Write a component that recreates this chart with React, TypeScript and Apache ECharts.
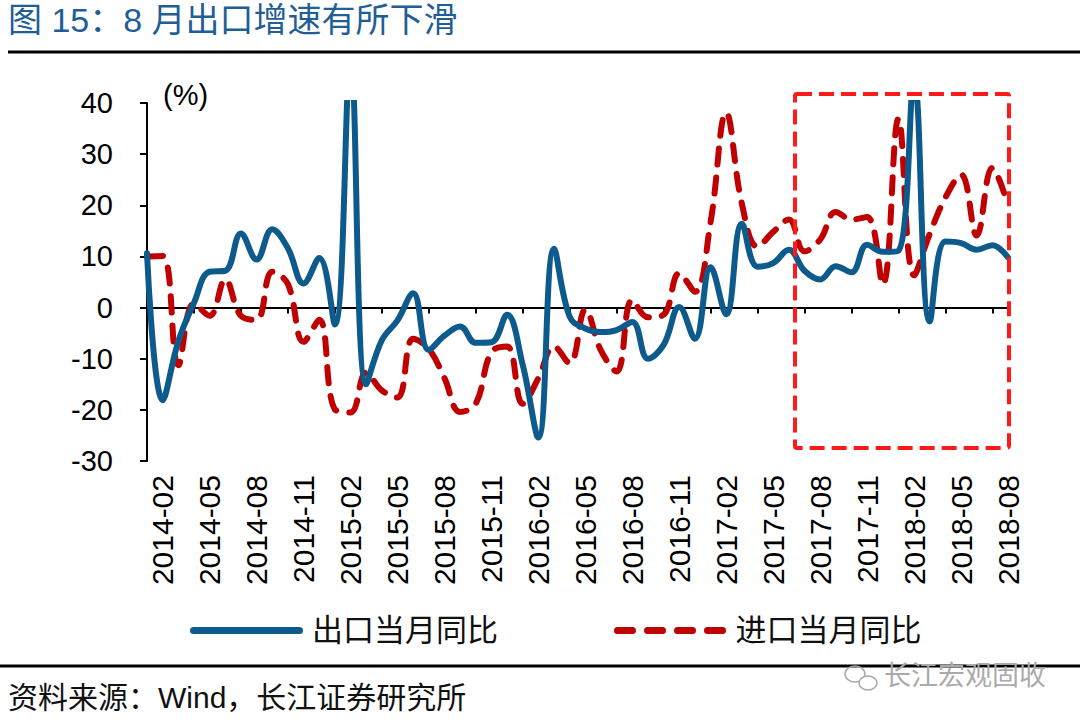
import React, { useEffect, useRef } from "react";
import * as echarts from "echarts";

const months: string[] = [
  "2014-01", "2014-02", "2014-03", "2014-04", "2014-05", "2014-06", "2014-07", "2014-08", "2014-09", "2014-10", "2014-11", "2014-12",
  "2015-01", "2015-02", "2015-03", "2015-04", "2015-05", "2015-06", "2015-07", "2015-08", "2015-09", "2015-10", "2015-11", "2015-12",
  "2016-01", "2016-02", "2016-03", "2016-04", "2016-05", "2016-06", "2016-07", "2016-08", "2016-09", "2016-10", "2016-11", "2016-12",
  "2017-01", "2017-02", "2017-03", "2017-04", "2017-05", "2017-06", "2017-07", "2017-08", "2017-09", "2017-10", "2017-11", "2017-12",
  "2018-01", "2018-02", "2018-03", "2018-04", "2018-05", "2018-06", "2018-07", "2018-08",
];

// 出口当月同比 (%)
const exportYoY: number[] = [
  10.6, -18.1, -6.6, 0.9, 7.0, 7.2, 14.5, 9.4, 15.3, 11.6, 4.7, 9.7,
  -3.3, 48.3, -15.0, -6.4, -2.5, 2.8, -8.3, -5.5, -3.7, -6.9, -6.8, -1.4,
  -11.2, -25.4, 11.5, -1.8, -4.1, -4.8, -4.4, -2.8, -10.0, -7.3, 0.1, -6.1,
  7.9, -1.3, 16.4, 8.0, 8.7, 11.3, 7.2, 5.5, 8.1, 6.9, 12.3, 10.9,
  11.1, 44.5, -2.7, 12.9, 12.6, 11.3, 12.2, 9.8,
];

// 进口当月同比 (%)
const importYoY: number[] = [
  10.0, 10.1, -11.3, 0.8, -1.6, 5.5, -1.6, -2.4, 7.0, 4.6, -6.7, -2.4,
  -19.9, -20.5, -12.7, -16.2, -17.6, -6.1, -8.1, -13.8, -20.4, -18.8, -8.7, -7.6,
  -18.8, -13.8, -7.6, -10.9, -0.4, -8.4, -12.5, 1.5, -1.9, -1.4, 6.7, 3.1,
  16.7, 38.1, 20.3, 11.9, 14.8, 17.2, 11.0, 13.3, 18.7, 17.2, 17.7, 4.5,
  36.9, 6.3, 14.4, 21.5, 26.0, 14.1, 27.3, 20.0,
];

const seriesNames: string[] = ["出口当月同比", "进口当月同比"];
const yTicks = { min: -30, max: 40, interval: 10 };

const titleText = "图 15：8 月出口增速有所下滑";
const sourceText = "资料来源：Wind，长江证券研究所";
const watermarkText = "长江宏观固收";

const NUM_FONT = "'Liberation Sans', Arial, 'Noto Sans CJK SC', sans-serif";
const CJK_FONT = "'Liberation Sans', 'Noto Sans CJK SC', sans-serif";
const BLUE = "#0d5a8c";
const RED = "#c00000";

// legend icons: solid rounded bar and four rounded dashes
const SOLID_ICON = "path://M3.5 0H109.5A3.5 3.5 0 0 1 109.5 7H3.5A3.5 3.5 0 0 1 3.5 0Z";
const DASH_ICON =
  "path://M3.5 0H18.5A3.5 3.5 0 0 1 18.5 7H3.5A3.5 3.5 0 0 1 3.5 0Z" +
  "M33.5 0H48.5A3.5 3.5 0 0 1 48.5 7H33.5A3.5 3.5 0 0 1 33.5 0Z" +
  "M63.5 0H78.5A3.5 3.5 0 0 1 78.5 7H63.5A3.5 3.5 0 0 1 63.5 0Z" +
  "M93.5 0H108.5A3.5 3.5 0 0 1 108.5 7H93.5A3.5 3.5 0 0 1 93.5 0Z";

export default function App() {
  const ref = useRef<HTMLDivElement>(null);

  useEffect(() => {
    if (!ref.current) return;
    const chart = echarts.init(ref.current, null, { renderer: "svg" });
    const option: any = {
      animation: false,
      backgroundColor: "#ffffff",
      grid: { left: 147, right: 72, top: 103, bottom: 262, containLabel: false },
      legend: {
        data: [
          { name: seriesNames[0], icon: SOLID_ICON },
          { name: seriesNames[1], icon: DASH_ICON },
        ],
        left: 185,
        top: 610,
        itemWidth: 113,
        itemHeight: 7,
        itemGap: 116,
        textStyle: { fontSize: 31, fontFamily: CJK_FONT, color: "#111", padding: [0, 0, 0, 4] },
      },
      xAxis: [
        {
          type: "category",
          data: months,
          boundaryGap: false,
          position: "bottom",
          axisLine: { show: false, onZero: false },
          axisTick: { show: false },
          splitLine: { show: false },
          axisLabel: {
            interval: (i: number) => i % 3 === 1,
            rotate: 90,
            margin: 14,
            fontSize: 30,
            fontFamily: NUM_FONT,
            color: "#000",
            padding: [0, 0, 12, 0],
          },
        },
        {
          type: "category",
          data: months,
          boundaryGap: false,
          position: "bottom",
          axisLine: { show: true, onZero: true, lineStyle: { color: "#000", width: 2 } },
          axisTick: {
            show: true,
            interval: (i: number) => i % 3 === 0,
            length: 6,
            lineStyle: { color: "#000", width: 2 },
          },
          axisLabel: { show: false },
          splitLine: { show: false },
        },
      ],
      yAxis: {
        type: "value",
        min: yTicks.min,
        max: yTicks.max,
        interval: yTicks.interval,
        name: "(%)",
        nameLocation: "end",
        nameGap: 8,
        nameTextStyle: {
          fontSize: 29,
          fontFamily: NUM_FONT,
          color: "#000",
          align: "left",
          verticalAlign: "middle",
          padding: [0, 0, 0, 16],
        },
        axisLine: { show: true, lineStyle: { color: "#000", width: 2 } },
        axisTick: { show: true, length: 7, lineStyle: { color: "#000", width: 2 } },
        splitLine: { show: false },
        axisLabel: { fontSize: 29, fontFamily: NUM_FONT, color: "#000", margin: 34 },
      },
      series: [
        {
          name: seriesNames[0],
          type: "line",
          xAxisIndex: 0,
          data: exportYoY,
          smooth: 0.4,
          symbol: "none",
          clip: true,
          lineStyle: { color: BLUE, width: 6, cap: "round", join: "round" },
          itemStyle: { color: BLUE },
          z: 3,
        },
        {
          name: seriesNames[1],
          type: "line",
          xAxisIndex: 0,
          data: importYoY,
          smooth: 0.4,
          symbol: "none",
          clip: true,
          lineStyle: { color: RED, width: 6, type: [16, 13], cap: "round", join: "round" },
          itemStyle: { color: RED },
          z: 2,
        },
      ],
      graphic: [
        {
          type: "text",
          left: 8,
          top: 3,
          style: { text: titleText, fontSize: 34, fontFamily: CJK_FONT, fill: "#1f5e96" },
        },
        {
          type: "line",
          shape: { x1: 8, y1: 52, x2: 1080, y2: 52 },
          style: { stroke: "#000", lineWidth: 3 },
        },
        {
          type: "line",
          shape: { x1: 0, y1: 666, x2: 1080, y2: 666 },
          style: { stroke: "#000", lineWidth: 3 },
        },
        {
          type: "text",
          left: 8,
          top: 682,
          style: { text: sourceText, fontSize: 30, fontFamily: CJK_FONT, fill: "#111" },
        },
        {
          type: "ellipse",
          shape: { cx: 855, cy: 674, rx: 10, ry: 8 },
          style: { fill: "none", stroke: "#aaa", lineWidth: 1.5 },
        },
        {
          type: "ellipse",
          shape: { cx: 868, cy: 683, rx: 9, ry: 7 },
          style: { fill: "#fff", stroke: "#aaa", lineWidth: 1.5 },
        },
        {
          type: "text",
          left: 884,
          top: 662,
          style: { text: watermarkText, fontSize: 27, fontFamily: CJK_FONT, fill: "#aaa" },
        },
        {
          type: "rect",
          shape: { x: 795, y: 94, width: 214, height: 354, r: 2 },
          style: { fill: "none", stroke: "#ff1a1a", lineWidth: 4, lineDash: [15, 7] },
          z: 10,
        },
      ],
    };
    chart.setOption(option);
    return () => chart.dispose();
  }, []);

  return (
    <div
      ref={ref}
      style={{ position: "fixed", left: 0, top: 0, width: 1080, height: 723, background: "#fff" }}
    />
  );
}
